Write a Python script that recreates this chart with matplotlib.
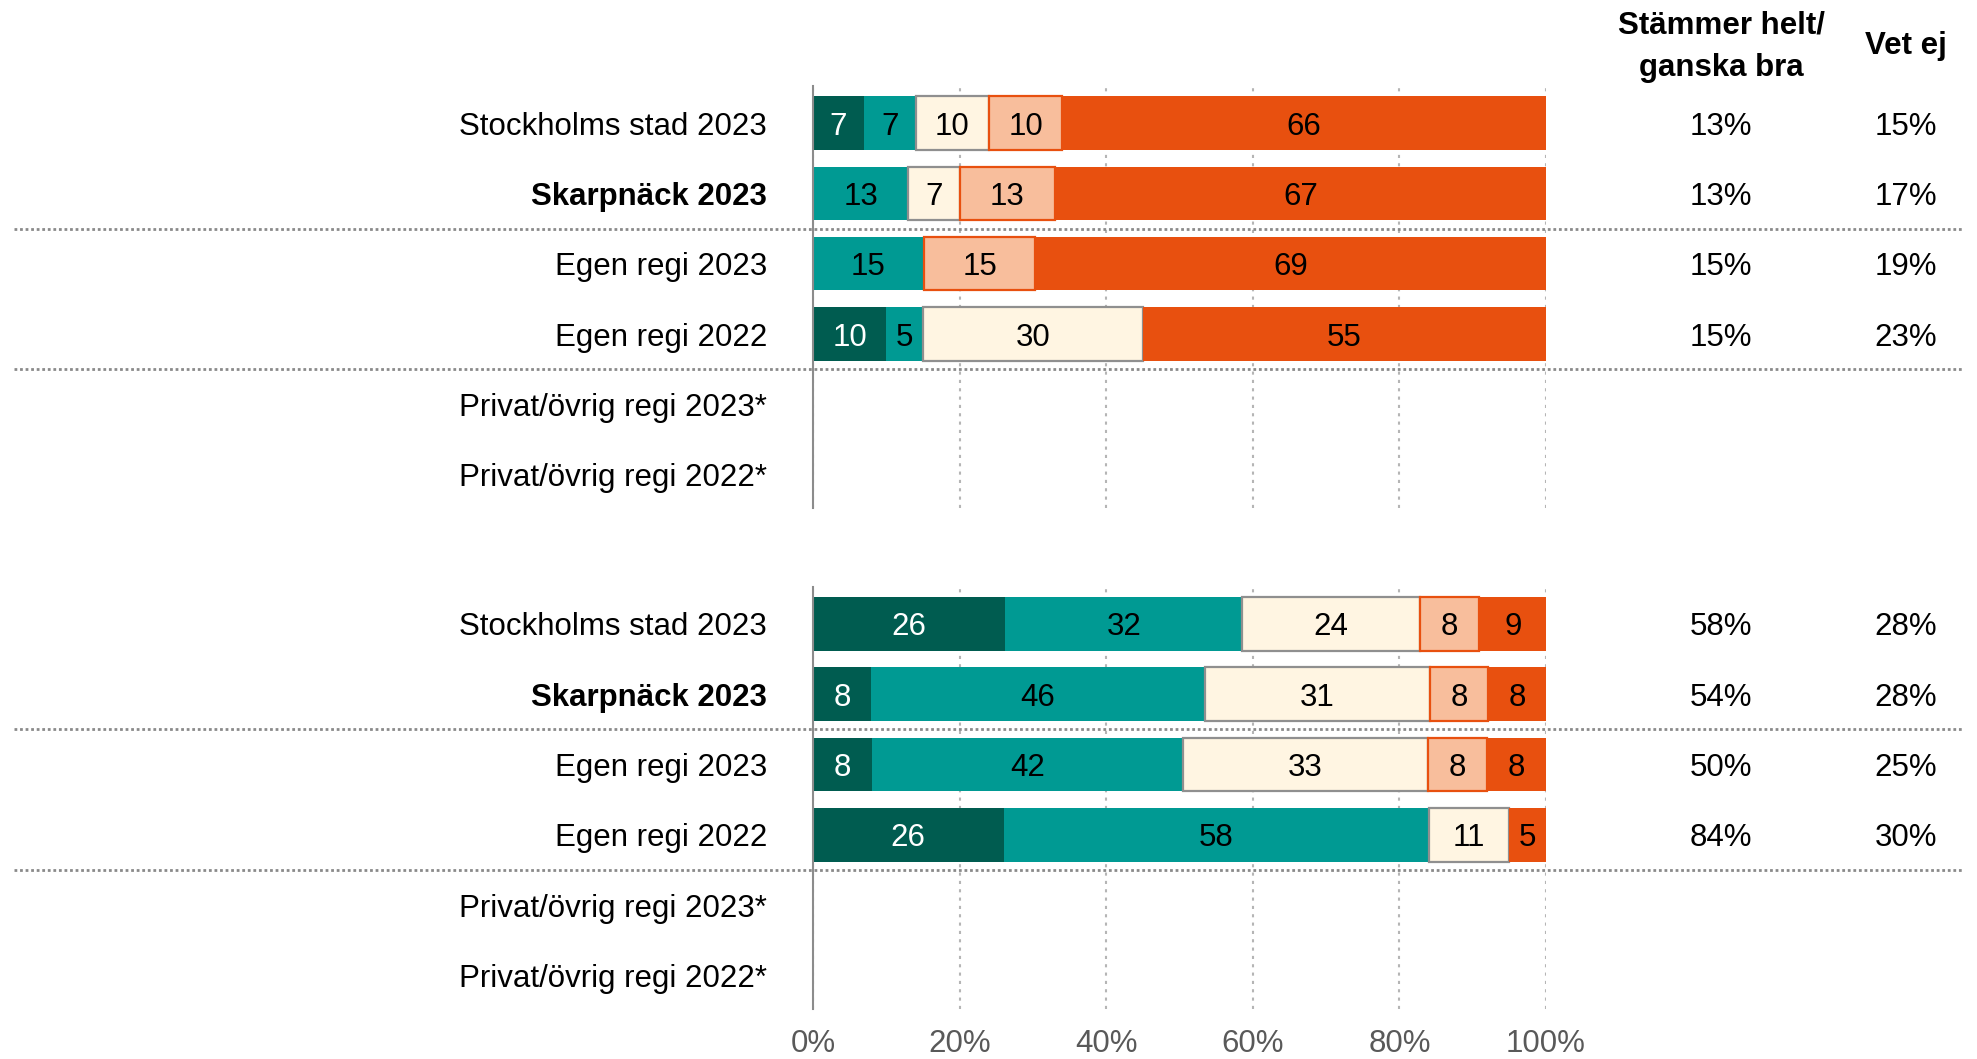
import matplotlib.pyplot as plt
import numpy as np

plt.rcParams['font.family'] = ['Liberation Sans', 'DejaVu Sans']

categories = ["Stockholms stad 2023", "Skarpnäck 2023", "Egen regi 2023",
              "Egen regi 2022", "Privat/övrig regi 2023*", "Privat/övrig regi 2022*"]
bold_label = "Skarpnäck 2023"

# segments per row, from left to right (0 = no segment)
dark_top = [7, 0, 0, 10, 0, 0]
teal_top = [7, 13, 15, 5, 0, 0]
cream_top = [10, 7, 0, 30, 0, 0]
salmon_top = [10, 13, 15, 0, 0, 0]
orange_top = [66, 67, 69, 55, 0, 0]

dark_bot = [26, 8, 8, 26, 0, 0]
teal_bot = [32, 46, 42, 58, 0, 0]
cream_bot = [24, 31, 33, 11, 0, 0]
salmon_bot = [8, 8, 8, 0, 0, 0]
orange_bot = [9, 8, 8, 5, 0, 0]

# right hand columns
agree_top = [13, 13, 15, 15, None, None]
dontknow_top = [15, 17, 19, 23, None, None]
agree_bot = [58, 54, 50, 84, None, None]
dontknow_bot = [28, 28, 25, 30, None, None]

xticks = [0, 20, 40, 60, 80, 100]

colors = ['#005C50', '#009A93', '#FFF5E2', '#F8BE9C', '#E8500F']
edges = [None, None, '#8f8f8f', '#E8500F', None]
txt_colors = ['white', 'black', 'black', 'black', 'black']
FS = 22.5

fig = plt.figure(figsize=(19.77, 10.59), dpi=100)
ax_top = fig.add_axes([0.4112, 0.5205, 0.3708, 0.3985])
ax_bot = fig.add_axes([0.4112, 0.0476, 0.3708, 0.3985])


def draw(ax, series, agree, dontknow, show_ticks):
    data = np.array(series, dtype=float)
    totals = data.sum(axis=0)
    scaled = np.where(totals > 0, data / np.where(totals > 0, totals, 1) * 100, 0)
    left = np.zeros(len(categories))
    y = np.arange(len(categories))
    for k in range(len(series)):
        for i in range(len(categories)):
            w = scaled[k, i]
            if data[k, i] <= 0:
                continue
            ec = edges[k] if edges[k] else colors[k]
            lw = 1.6 if edges[k] else 0
            ax.barh(y[i], w, left=left[i], height=0.76, color=colors[k],
                    edgecolor=ec, linewidth=lw, zorder=3)
            ax.text(left[i] + w / 2, y[i], f"{int(data[k, i])}", ha='center',
                    va='center_baseline', fontsize=FS, color=txt_colors[k], zorder=4)
            left[i] += w

    for i in range(len(categories)):
        if agree[i] is not None:
            ax.text(123.9, y[i], f"{agree[i]}%", ha='center', va='center_baseline', fontsize=FS)
        if dontknow[i] is not None:
            ax.text(149.1, y[i], f"{dontknow[i]}%", ha='center', va='center_baseline', fontsize=FS)

    for sep in [1.5, 3.5]:
        ax.plot([-109, 157], [sep, sep], color='#8a8a8a', lw=2,
                linestyle=(0, (1, 1)), clip_on=False, zorder=2)

    ax.set_xlim(0, 100)
    ax.set_ylim(5.47, -0.53)
    ax.set_yticks(y, categories)
    for lab in ax.get_yticklabels():
        lab.set_fontsize(FS)
        if lab.get_text() == bold_label:
            lab.set_fontweight('bold')
    ax.tick_params(axis='y', length=0, pad=33)
    ax.set_xticks(xticks)
    if show_ticks:
        ax.set_xticklabels([f"{t}%" for t in xticks], fontsize=FS, color='#595959')
        ax.tick_params(axis='x', length=0, pad=15)
    else:
        ax.tick_params(axis='x', length=0, labelbottom=False)
    ax.grid(axis='x', color='#b5b5b5', linestyle=(0, (1.5, 2.5)), lw=1.5)
    ax.set_axisbelow(True)
    for s in ['top', 'right', 'bottom']:
        ax.spines[s].set_visible(False)
    ax.spines['left'].set_color('#8c8c8c')
    ax.spines['left'].set_linewidth(1.5)
    ax.spines['left'].set_zorder(5)


draw(ax_top, [dark_top, teal_top, cream_top, salmon_top, orange_top],
     agree_top, dontknow_top, False)
draw(ax_bot, [dark_bot, teal_bot, cream_bot, salmon_bot, orange_bot],
     agree_bot, dontknow_bot, True)

fig.text(1721 / 1977, 1 - 26 / 1059, "Stämmer helt/", ha='center', va='center',
         fontsize=FS, fontweight='bold')
fig.text(1721 / 1977, 1 - 68 / 1059, "ganska bra", ha='center', va='center',
         fontsize=FS, fontweight='bold')
fig.text(1906 / 1977, 1 - 46 / 1059, "Vet ej", ha='center', va='center',
         fontsize=FS, fontweight='bold')

fig.savefig('out.png', dpi=100, facecolor='white')
